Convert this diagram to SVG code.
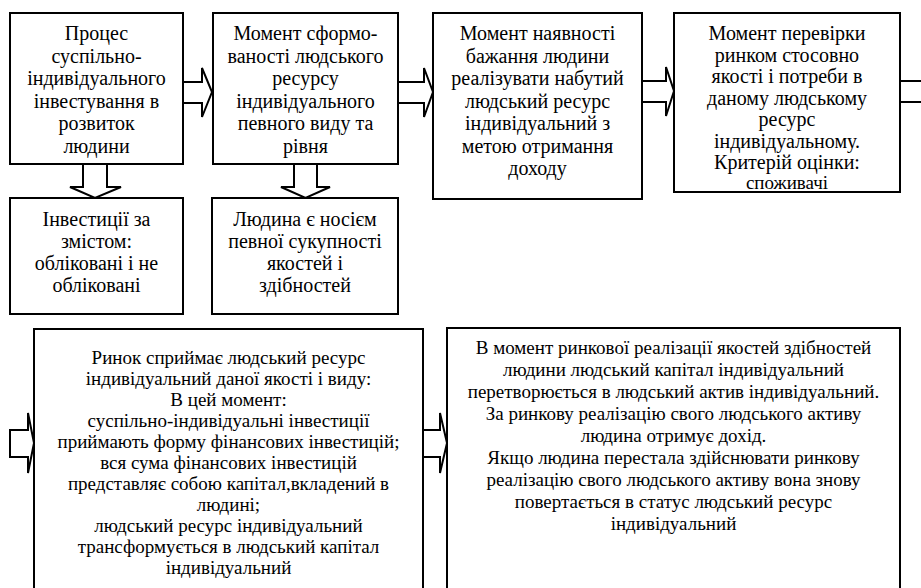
<svg xmlns="http://www.w3.org/2000/svg" width="921" height="588" viewBox="0 0 921 588">
<style>
.box{fill:#fff;stroke:#000;stroke-width:2}
.arr{fill:#fff;stroke:#000;stroke-width:2;stroke-linejoin:miter}
.ln{fill:none;stroke:#000;stroke-width:2}
.t{font-family:'Liberation Serif','Times New Roman',serif;font-size:20px;fill:#000;text-anchor:middle}
.s{font-size:19px}
</style>
<rect width="921" height="588" fill="#fff"/>
<g id="connectors">
<path class="arr" d="M183,82 H202 V68 L212,92 L202,117 V103 H183"/>
<path class="arr" d="M398,82 H424 V68 L433,92 L424,117 V103 H398"/>
<path class="arr" d="M642,81 H666 V67 L674,91 L666,116 V102 H642"/>
<path class="ln" d="M899,81 H925 M899,102 H925"/>
<path class="arr" d="M83,164 V187 H70 L95,198 L121,187 H107 V164"/>
<path class="arr" d="M294,164 V187 H281 L305.5,198 L330,187 H317 V164"/>
<path class="arr" d="M10,430 H28 V413 L34,443 L28,473 V457 H10 Z"/>
<path class="arr" d="M423,430 H440 V413 L447,443 L440,473 V457 H423"/>
</g>
<g id="n1">
<rect class="box" x="10" y="13" width="173" height="151"/>
<text class="t" x="96.5" y="40">Процес</text>
<text class="t" x="96.5" y="62.5">суспільно-</text>
<text class="t" x="96.5" y="85">індивідуального</text>
<text class="t" x="96.5" y="107.5">інвестування в</text>
<text class="t" x="96.5" y="130">розвиток</text>
<text class="t" x="96.5" y="152.5">людини</text>
</g>
<g id="n2">
<rect class="box" x="213" y="13" width="185" height="151"/>
<text class="t" x="305.5" y="40">Момент сформо-</text>
<text class="t" x="305.5" y="62.5">ваності людського</text>
<text class="t" x="305.5" y="85">ресурсу</text>
<text class="t" x="305.5" y="107.5">індивідуального</text>
<text class="t" x="305.5" y="130">певного виду та</text>
<text class="t" x="305.5" y="152.5">рівня</text>
</g>
<g id="n3">
<rect class="box" x="433" y="13" width="209" height="186"/>
<text class="t" x="537.5" y="40">Момент наявності</text>
<text class="t" x="537.5" y="62.5">бажання людини</text>
<text class="t" x="537.5" y="85">реалізувати набутий</text>
<text class="t" x="537.5" y="107.5">людський ресурс</text>
<text class="t" x="537.5" y="130">індивідуальний з</text>
<text class="t" x="537.5" y="152.5">метою отримання</text>
<text class="t" x="537.5" y="175">доходу</text>
</g>
<g id="n4">
<rect class="box" x="674" y="13" width="226" height="179"/>
<text class="t" x="787" y="40">Момент перевірки</text>
<text class="t" x="787" y="61.5">ринком стосовно</text>
<text class="t" x="787" y="83">якості і потреби в</text>
<text class="t" x="787" y="104.5">даному  людському</text>
<text class="t" x="787" y="126">ресурс</text>
<text class="t" x="787" y="147.5">індивідуальному.</text>
<text class="t" x="787" y="169">Критерій оцінки:</text>
<text class="t s" x="787" y="189">споживачі</text>
</g>
<g id="n5">
<rect class="box" x="10" y="198" width="173" height="116"/>
<text class="t" x="96.5" y="226">Інвестиції за</text>
<text class="t" x="96.5" y="248">змістом:</text>
<text class="t" x="96.5" y="270">обліковані і не</text>
<text class="t" x="96.5" y="292">обліковані</text>
</g>
<g id="n6">
<rect class="box" x="212" y="198" width="186" height="116"/>
<text class="t" x="305" y="226">Людина є носієм</text>
<text class="t" x="305" y="248">певної сукупності</text>
<text class="t" x="305" y="270">якостей і</text>
<text class="t" x="305" y="292">здібностей</text>
</g>
<g id="n7">
<rect class="box" x="34" y="329" width="389" height="280"/>
<text class="t s" x="228.5" y="364">Ринок сприймає людський ресурс</text>
<text class="t s" x="228.5" y="385">індивідуальний даної якості і виду:</text>
<text class="t s" x="228.5" y="406">В цей момент:</text>
<text class="t s" x="228.5" y="427">суспільно-індивідуальні інвестиції</text>
<text class="t s" x="228.5" y="448">приймають форму фінансових інвестицій;</text>
<text class="t s" x="228.5" y="469">вся сума фінансових інвестицій</text>
<text class="t s" x="228.5" y="490">представляє собою капітал,вкладений в</text>
<text class="t s" x="228.5" y="511">людині;</text>
<text class="t s" x="228.5" y="532">людський ресурс індивідуальний</text>
<text class="t s" x="228.5" y="553">трансформується в людський капітал</text>
<text class="t s" x="228.5" y="574">індивідуальний</text>
</g>
<g id="n8">
<rect class="box" x="447" y="328" width="453" height="280"/>
<text class="t s" x="673.5" y="354">В момент ринкової реалізації якостей  здібностей</text>
<text class="t s" x="673.5" y="376">людини людський капітал індивідуальний</text>
<text class="t s" x="673.5" y="398">перетворюється в людський актив індивідуальний.</text>
<text class="t s" x="673.5" y="420">За ринкову реалізацію свого людського активу</text>
<text class="t s" x="673.5" y="442">людина отримує дохід.</text>
<text class="t s" x="673.5" y="464">Якщо людина перестала здійснювати ринкову</text>
<text class="t s" x="673.5" y="486">реалізацію свого людського активу вона знову</text>
<text class="t s" x="673.5" y="508">повертається в статус людський ресурс</text>
<text class="t s" x="673.5" y="530">індивідуальний</text>
</g>
</svg>
